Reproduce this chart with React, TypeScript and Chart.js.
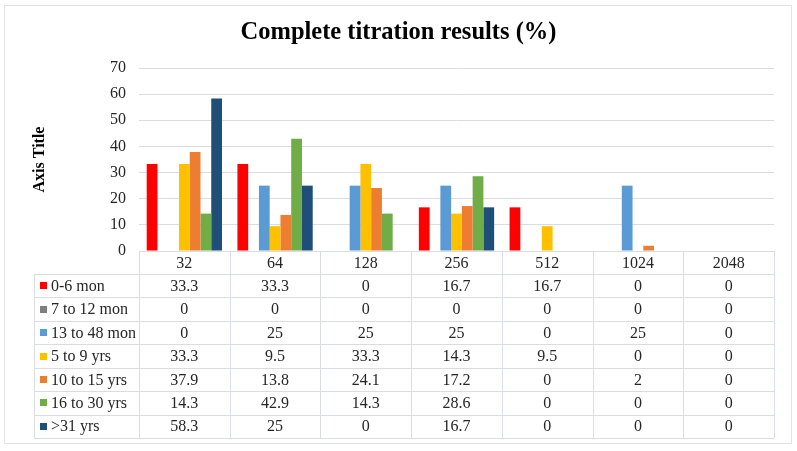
import React, { useEffect, useRef } from 'react';
import { Chart, registerables } from 'chart.js';

Chart.register(...registerables);

const categories = ['32', '64', '128', '256', '512', '1024', '2048'];
const seriesNames = ['0-6 mon', '7 to 12 mon', '13 to 48 mon', '5 to 9 yrs', '10 to 15 yrs', '16 to 30 yrs', '>31 yrs'];
const mon0to6 = [33.3, 33.3, 0, 16.7, 16.7, 0, 0];
const mon7to12 = [0, 0, 0, 0, 0, 0, 0];
const mon13to48 = [0, 25, 25, 25, 0, 25, 0];
const yrs5to9 = [33.3, 9.5, 33.3, 14.3, 9.5, 0, 0];
const yrs10to15 = [37.9, 13.8, 24.1, 17.2, 0, 2, 0];
const yrs16to30 = [14.3, 42.9, 14.3, 28.6, 0, 0, 0];
const yrsOver31 = [58.3, 25, 0, 16.7, 0, 0, 0];
const seriesValues = [mon0to6, mon7to12, mon13to48, yrs5to9, yrs10to15, yrs16to30, yrsOver31];
const seriesColors = ['#FF0000', '#7F7F7F', '#5B9BD5', '#FFC000', '#ED7D31', '#70AD47', '#1F4E79'];
const yMin = 0;
const yMax = 70;
const yStep = 10;

const FONT = "'Liberation Serif', 'Times New Roman', serif";
const LINE = '#D9DCE3';

const tablePlugin = {
  id: 'dataTable',
  beforeDraw(chart: any) {
    const { ctx, width, height } = chart;
    ctx.save();
    ctx.fillStyle = '#FFFFFF';
    ctx.fillRect(0, 0, width, height);
    ctx.strokeStyle = '#E3E3E3';
    ctx.lineWidth = 1;
    ctx.strokeRect(4.5, 5.5, 787, 438);
    ctx.restore();
  },
  afterDraw(chart: any) {
    const { ctx, chartArea } = chart;
    const left = chartArea.left;
    const right = chartArea.right;
    const n = categories.length;
    const cw = (right - left) / n;
    const top = chartArea.bottom;
    const headerBottom = top + 23;
    const tableBottom = 438;
    const rows = seriesNames.length;
    const rowH = (tableBottom - headerBottom) / rows;
    const legendLeft = 34;

    ctx.save();
    ctx.strokeStyle = LINE;
    ctx.lineWidth = 1;
    ctx.beginPath();
    ctx.moveTo(left, Math.round(top) + 0.5);
    ctx.lineTo(right, Math.round(top) + 0.5);
    for (let r = 0; r <= rows; r++) {
      const y = Math.round(headerBottom + r * rowH) + 0.5;
      ctx.moveTo(legendLeft, y);
      ctx.lineTo(right, y);
    }
    for (let c = 0; c <= n; c++) {
      const x = Math.round(left + c * cw) + 0.5;
      ctx.moveTo(x, top);
      ctx.lineTo(x, tableBottom + 0.5);
    }
    ctx.moveTo(legendLeft + 0.5, headerBottom);
    ctx.lineTo(legendLeft + 0.5, tableBottom + 0.5);
    ctx.stroke();

    ctx.font = `16px ${FONT}`;
    ctx.fillStyle = '#262626';
    ctx.textBaseline = 'middle';
    ctx.textAlign = 'center';
    const headerY = (top + headerBottom) / 2 + 1;
    categories.forEach((cat, c) => {
      ctx.fillText(cat, left + (c + 0.5) * cw, headerY);
    });
    seriesNames.forEach((name, r) => {
      const cy = headerBottom + (r + 0.5) * rowH + 1;
      ctx.fillStyle = seriesColors[r];
      ctx.fillRect(40, Math.round(cy - 4.5), 7, 7);
      ctx.fillStyle = '#262626';
      ctx.textAlign = 'left';
      ctx.fillText(name, 51, cy);
      ctx.textAlign = 'center';
      seriesValues[r].forEach((v, c) => {
        ctx.fillText(String(v), left + (c + 0.5) * cw, cy);
      });
    });
    ctx.restore();
  },
};

export default function App() {
  const ref = useRef<HTMLCanvasElement>(null);
  useEffect(() => {
    if (!ref.current) return;
    Chart.defaults.font.family = FONT;
    const chart = new Chart(ref.current, {
      type: 'bar',
      data: {
        labels: categories,
        datasets: seriesNames.map((name, i) => ({
          label: name,
          data: seriesValues[i],
          backgroundColor: seriesColors[i],
          borderWidth: 0,
          categoryPercentage: 0.83,
          barPercentage: 1.0,
        })),
      },
      options: {
        responsive: false,
        animation: false,
        devicePixelRatio: 1,
        layout: { padding: { top: 0, left: 23, right: 23, bottom: 200 } },
        plugins: {
          legend: { display: false },
          tooltip: { enabled: false },
          title: {
            display: true,
            text: 'Complete titration results (%)',
            color: '#000000',
            font: { size: 24.5, weight: 'bold', family: FONT },
            padding: { top: 18, bottom: 20.6 },
          },
        },
        scales: {
          x: { display: false },
          y: {
            min: yMin,
            max: yMax,
            ticks: { stepSize: yStep, padding: 13, color: '#262626', font: { size: 16, family: FONT } },
            grid: { color: LINE, drawTicks: false },
            border: { display: false },
            title: {
              display: true,
              text: 'Axis Title',
              color: '#000000',
              font: { size: 16, weight: 'bold', family: FONT },
              padding: { top: 7.4, bottom: 0 },
            },
            afterFit(scale: any) {
              scale.width = 116;
            },
          },
        },
      },
      plugins: [tablePlugin],
    });
    return () => chart.destroy();
  }, []);
  return (
    <div style={{ position: 'fixed', left: 0, top: 0, width: 797, height: 451, background: '#fff' }}>
      <canvas ref={ref} width={797} height={451} />
    </div>
  );
}
